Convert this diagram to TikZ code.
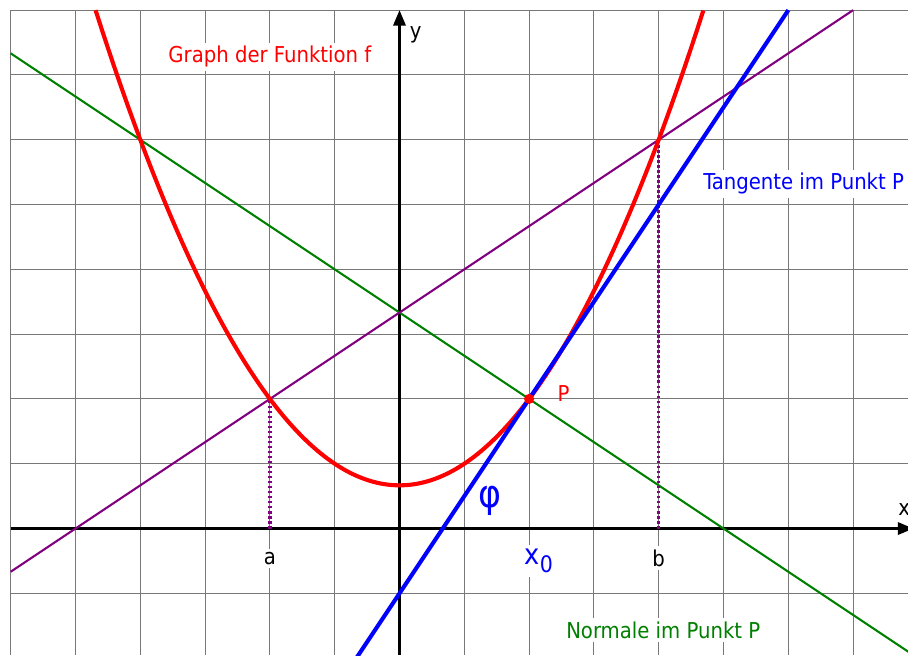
\documentclass[tikz,border=0pt]{standalone}
\usepackage{fontspec}
\setmainfont{DejaVu Sans Condensed}
\usetikzlibrary{arrows.meta}
\definecolor{gridgray}{RGB}{120,120,120}
\definecolor{cred}{RGB}{255,0,0}
\definecolor{cblue}{RGB}{0,0,255}
\definecolor{cgreen}{RGB}{0,128,0}
\definecolor{cpurple}{RGB}{128,0,128}
\begin{document}
\begin{tikzpicture}[x=1cm,y=1cm,
  gridline/.style={draw=gridgray, line width=0.45pt},
  axisline/.style={draw=black, line width=1.1pt, -{Triangle[length=0.24cm,width=0.19cm]}},
  fcurve/.style={draw=cred, line width=1.8pt},
  tangline/.style={draw=cblue, line width=1.8pt},
  normline/.style={draw=cgreen, line width=0.9pt},
  secline/.style={draw=cpurple, line width=0.9pt},
  dropline/.style={draw=cpurple, line width=1.5pt, dash pattern=on 1.2pt off 1.0pt},
  lbl/.style={font=\fontsize{9.6}{11}\selectfont, fill=white, inner sep=1.5pt},
  plainlbl/.style={font=\fontsize{9.6}{11}\selectfont, inner sep=1pt}
]
\useasboundingbox (-6.165,-1.952) rectangle (7.847,8.156);
% grid
\foreach \x in {-6,...,7} \draw[gridline] (\x,-1.952) -- (\x,8);
\foreach \y in {-1,...,8} \draw[gridline] (-6,\y) -- (7.847,\y);
% coordinates
\coordinate (O) at (0,0);
\coordinate (P) at (2,2);
\coordinate (A) at (-2,2);
\coordinate (Ax) at (-2,0);
\coordinate (B) at (4,6);
\coordinate (Bx) at (4,0);
\coordinate (T1) at (-0.7,-2.05);
\coordinate (T2) at (6,8);
\coordinate (N1) at (-6,7.3333);
\coordinate (N2) at (8,-2);
\coordinate (S1) at (-6,-0.6667);
\coordinate (S2) at (7,8);
\coordinate (Xs) at (-6,0);
\coordinate (Xe) at (7.93,0);
\coordinate (Ys) at (0,-1.952);
\coordinate (Ye) at (0,8.0);
% axes
\draw[axisline] (Xs) -- (Xe);
\draw[axisline] (Ys) -- (Ye);
% lines
\draw[normline] (N1) -- (N2);
\draw[secline] (S1) -- (S2);
\draw[dropline] (Ax) -- (A);
\draw[dropline] (Bx) -- (B);
% graph
\draw[fcurve] plot[domain=-4.69:4.69, samples=120, smooth] (\x,{\x*\x/3+2/3});
\draw[tangline] (T1) -- (T2);
\fill[cred] (P) circle (0.078);
% labels
\node[lbl, text=cred] (gl) at (-2.0,7.28) {Graph der Funktion f};
\node[lbl, text=cblue, anchor=west] (tl) at (4.63,5.32) {Tangente im Punkt P};
\node[lbl, text=cgreen] (nl) at (4.07,-1.566) {Normale im Punkt P};
\node[lbl] (la) at (-2,-0.46) {a};
\node[lbl] (lb) at (4,-0.46) {b};
\node[lbl, text=cblue, font=\fontsize{12.5}{14}\selectfont] (lx0) at (2.15,-0.5) {x\raisebox{-0.55ex}{\fontsize{10}{12}\selectfont 0}};
\node[plainlbl, text=cblue, font=\fontsize{17}{19}\selectfont] (phi) at (1.4,0.42) {φ};
\node[plainlbl, text=cred] (lp) at (2.53,2.09) {P};
\node[plainlbl] (ly) at (0.25,7.62) {y};
\node[plainlbl] (lx) at (7.79,0.3) {x};
\end{tikzpicture}
\end{document}
